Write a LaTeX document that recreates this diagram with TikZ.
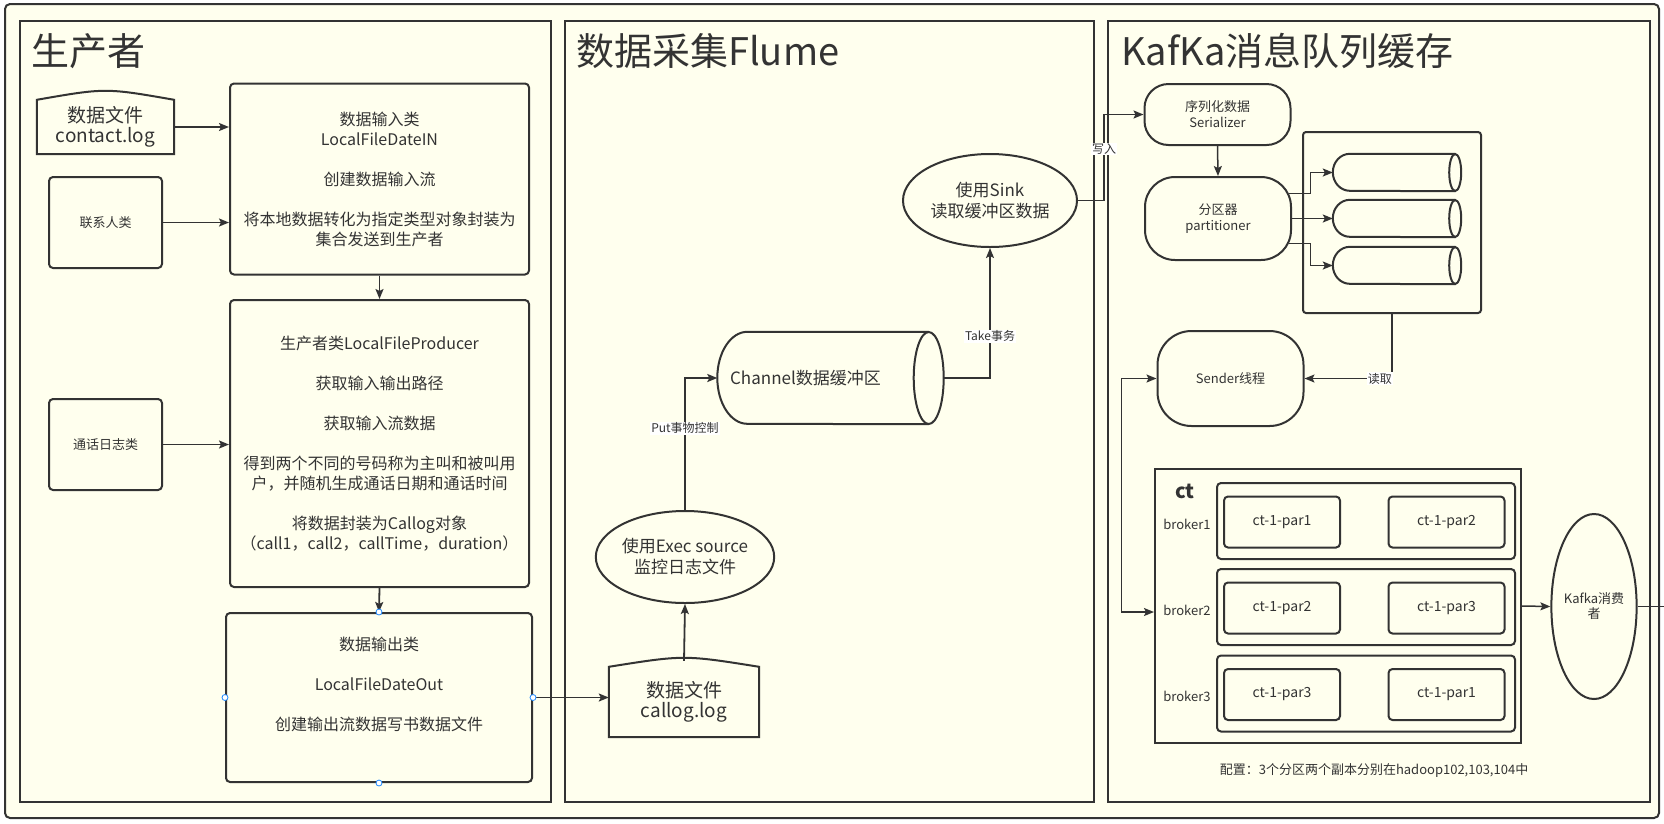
\documentclass[tikz,border=0pt]{standalone}
\usepackage{fontspec}
\setmainfont{Noto Sans CJK SC}
\usetikzlibrary{arrows.meta, positioning, shapes.geometric, calc}
\definecolor{paper}{RGB}{255,255,238}
\definecolor{ink}{RGB}{51,51,51}
\definecolor{handleblue}{RGB}{30,136,255}

\newcommand{\fs}[2]{\fontsize{#1}{#2}\selectfont}
% outline of a "file" node: flat bottom, bulging top
\newcommand{\fileoutline}[1]{%
  \draw[draw=ink,line width=2pt] (#1.south west) -- (#1.north west)
    .. controls ([yshift=12pt]#1.north) .. (#1.north east) -- (#1.south east) -- cycle;}
% outline of a lying drum: name, left x radius, right x radius, y radius
\newcommand{\drumoutline}[4]{%
  \draw[draw=ink,line width=2pt] ([xshift=-#3]#1.north east) -- ([xshift=#2]#1.north west)
    arc[start angle=90,end angle=270,x radius=#2,y radius=#4] -- ([xshift=-#3]#1.south east);
  \draw[draw=ink,line width=2pt] ([xshift=-#3]#1.east) ellipse[x radius=#3,y radius=#4];}

\begin{document}
\begin{tikzpicture}[
    x=1pt, y=-1pt,
    panel/.style={draw=ink,fill=paper,line width=2pt},
    ttl/.style={anchor=west,inner sep=0pt,text=ink,font=\fs{38}{44}},
    box/.style={draw=ink,line width=2pt,rounded corners=4pt,align=center,
                inner sep=0pt,text=ink,font=\fs{16}{20}},
    cls/.style={box,font=\fs{13}{16},minimum width=113pt,minimum height=91pt},
    file/.style={inner sep=0pt,align=center,text=ink,font=\fs{19}{21}},
    oval/.style={ellipse,draw=ink,line width=2pt,inner sep=0pt,align=center,
                 text=ink,font=\fs{17}{21}},
    drum/.style={inner sep=0pt,text=ink,font=\fs{17}{21}},
    pill/.style={box,font=\fs{13}{16},minimum width=146pt},
    par/.style={box,font=\fs{14}{16},minimum width=116pt,minimum height=51pt},
    row/.style={draw=ink,line width=2pt,rounded corners=4pt,minimum width=298pt,
                minimum height=76pt,inner sep=0pt},
    small/.style={inner sep=0pt,text=ink,font=\fs{13}{16}},
    arr/.style={-{Stealth[length=10pt,width=8pt,inset=2pt]},draw=ink,line width=1.8pt},
    darr/.style={{Stealth[length=10pt,width=8pt,inset=2pt]}-{Stealth[length=10pt,width=8pt,inset=2pt]},
                 draw=ink,line width=1.5pt},
    lbl/.style={fill=white,inner sep=1pt,text=ink,font=\fs{12}{14}},
    handle/.style={circle,draw=handleblue,fill=white,line width=0.8pt,inner sep=0pt,minimum size=6pt}
]
  \useasboundingbox (0,0) rectangle (1664,823);
  \fill[white] (0,0) rectangle (1664,823);

  % frame and the three panels
  \draw[draw=ink,fill=paper,line width=2pt,rounded corners=5pt] (5,4) rectangle (1659,818);
  \draw[panel] (20,21) rectangle (551,802);
  \draw[panel] (565,21) rectangle (1094,802);
  \draw[panel] (1108,21) rectangle (1650,802);
  \node[ttl] (t1) at (31,51) {生产者};
  \node[ttl] (t2) at (576,51) {数据采集Flume};
  \node[ttl] (t3) at (1121,51) {KafKa消息队列缓存};

  % Producer
  \node[file,minimum width=137pt,minimum height=54pt] (cfile) at (105.5,127) {数据文件\\[-1pt]contact.log};
  \fileoutline{cfile}
  \node[cls] (contact) at (105.5,222.5) {联系人类};
  \node[cls] (calllog) at (105.5,444.5) {通话日志类};
  \node[box,minimum width=299pt,minimum height=191pt] (inb) at (379.5,179)
    {数据输入类\\LocalFileDateIN\\[20pt]创建数据输入流\\[20pt]将本地数据转化为指定类型对象封装为\\集合发送到生产者};
  \node[box,minimum width=299pt,minimum height=287pt] (prod) at (379.5,443.5)
    {生产者类LocalFileProducer\\[20pt]获取输入输出路径\\[20pt]获取输入流数据\\[20pt]得到两个不同的号码称为主叫和被叫用\\户，并随机生成通话日期和通话时间\\[20pt]将数据封装为Callog对象\\（call1，call2，callTime，duration）};
  \node[box,minimum width=306pt,minimum height=169pt] (outb) at (379,697.5)
    {数据输出类\\[20pt]LocalFileDateOut\\[20pt]创建输出流数据写书数据文件\\[7pt]\mbox{}};

  \draw[arr] (cfile.east) -- (cfile.east -| inb.west);
  \draw[arr] (contact.east) -- (contact.east -| inb.west);
  \draw[arr] (calllog.east) -- (calllog.east -| prod.west);
  \draw[arr] (inb.south) -- (prod.south |- prod.north);
  \draw[arr] (prod.south) -- (outb.north);

  % Flume
  \node[file,minimum width=150pt,minimum height=70pt] (lfile) at (684,702) {数据文件\\[-1pt]callog.log};
  \fileoutline{lfile}
  \node[oval,minimum width=174pt,minimum height=92pt] (exec) at (685,557) {使用Exec source\\监控日志文件};
  \node[drum,minimum width=226pt,minimum height=92pt] (chan) at (830.5,378) {\hspace*{-50pt}Channel数据缓冲区};
  \drumoutline{chan}{30pt}{15pt}{46pt}
  \node[oval,minimum width=174pt,minimum height=93pt] (sink) at (990,200.5) {使用Sink\\读取缓冲区数据};

  \draw[arr] (outb.east) -- (outb.east -| lfile.west);
  \draw[arr] ([yshift=6pt]lfile.north) -- (exec.south);
  \draw[arr] (exec.north) |- (chan.west) node[pos=0.31,lbl] {Put事物控制};
  \draw[arr] (chan.east) -| (sink.south) node[pos=0.66,lbl] {Take事务};

  % selection handles on the output box
  \node[handle] (hn) at (outb.north) {};
  \node[handle] (hs) at (outb.south) {};
  \node[handle] (hw) at (outb.west) {};
  \node[handle] (he) at (outb.east) {};

  % Kafka
  \node[pill,minimum height=61pt,rounded corners=24pt] (ser) at (1217.5,114.5) {序列化数据\\Serializer};
  \node[pill,minimum height=83pt,rounded corners=30pt] (part) at (1218,218.5) {分区器\\partitioner};
  \node[box,minimum width=178pt,minimum height=181pt,rounded corners=3pt] (pbox) at (1392,222.5) {};
  \foreach \i/\yy in {1/172.5, 2/218.5, 3/265.5} {
    \node[drum,minimum width=128pt,minimum height=37pt] (q\i) at (1397,\yy) {};
    \drumoutline{q\i}{17pt}{6pt}{18.5pt}
  }
  \node[pill,minimum height=95pt,rounded corners=34pt] (sender) at (1230.5,378.5) {Sender线程};

  \draw[arr] (sink.east) -- ++(26,0) |- (ser.west) node[pos=0.3,lbl] {写入};
  \draw[arr,line width=1.5pt] (ser.south) -- (part.north);
  \draw[arr,line width=1.5pt] ([xshift=-3.5pt,yshift=25pt]part.east) -- ++(22,0) |- (q1.west);
  \draw[arr,line width=1.5pt] (part.east) -- (q2.west);
  \draw[arr,line width=1.5pt] ([xshift=-3.5pt,yshift=-25pt]part.east) -- ++(22,0) |- (q3.west);
  \draw[arr,line width=1.5pt] (pbox.south) |- (sender.east) node[pos=0.57,lbl] {读取};

  % topic ct with three brokers
  \node[draw=ink,line width=2pt,minimum width=366pt,minimum height=274pt,inner sep=0pt] (ct) at (1338,606) {};
  \node[text=ink,font=\bfseries\fs{20}{24},inner sep=0pt] (ctname) at (1185,491) {ct};
  \foreach \i/\yy/\pa/\pb in {1/521/1/2, 2/607/2/3, 3/693.5/3/1} {
    \node[row] (b\i) at (1366,\yy) {};
    \node[small] (bl\i) at (1187,\yy+3) {broker\i};
    \node[par] (pl\i) at (1282,\yy+1) {ct-1-par\pa};
    \node[par] (pr\i) at (1446.5,\yy+1) {ct-1-par\pb};
  }
  \node[oval,minimum width=84pt,minimum height=185pt,font=\fs{13}{15}] (cons) at (1594,606.5) {Kafka消费\\者};
  \coordinate (rim) at (1664,606.5);

  \draw[darr] (sender.west) -- ++(-35,0) |- ([yshift=-6pt]ct.west);
  \draw[arr,line width=1.5pt] (ct.east) -- (cons.west);
  \draw[draw=ink,line width=1.5pt] (cons.east) -- (rim);

  \node[small] (note) at (1374,771) {配置：3个分区两个副本分别在hadoop102,103,104中};
\end{tikzpicture}
\end{document}
